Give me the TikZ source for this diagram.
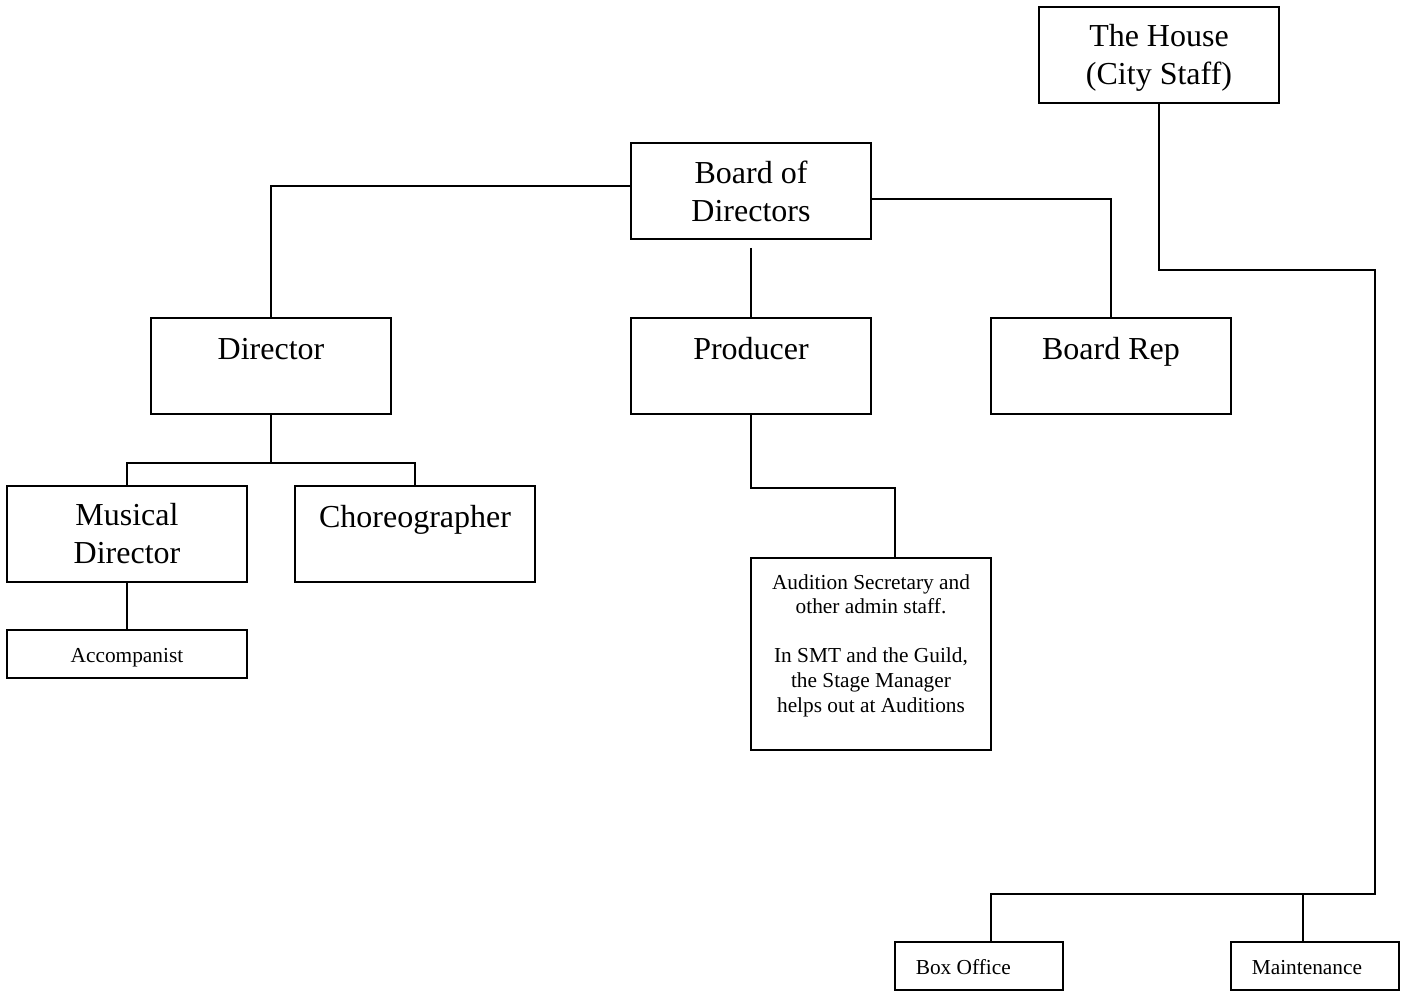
\documentclass[tikz,border=0pt]{standalone}
\usepackage{fontspec}
\setmainfont{Liberation Serif}
\begin{document}
\begin{tikzpicture}[x=0.375pt,y=-0.375pt,
  line width=0.6pt,
  box/.style={draw,inner sep=0pt,minimum width=90pt,minimum height=36pt},
  smallbox/.style={draw,inner sep=0pt,minimum width=90pt,minimum height=18pt},
  tinybox/.style={draw,inner sep=0pt,minimum width=63pt,minimum height=18pt},
  bigtxt/.style={inner sep=0pt,anchor=base,align=center,font=\fontsize{12}{13.9}\selectfont},
  smalltxt/.style={inner sep=0pt,anchor=base,align=center,font=\fontsize{8}{9.2}\selectfont},
  lefttxt/.style={inner sep=0pt,anchor=base west,font=\fontsize{8}{9.2}\selectfont}]
\useasboundingbox (0,0) rectangle (1404,992);

% boxes
\node[box] (house) at (1159,55) {};
\node[box] (board) at (751,191) {};
\node[box] (dir) at (271,366) {};
\node[box] (prod) at (751,366) {};
\node[box] (rep) at (1111,366) {};
\node[box] (md) at (127,534) {};
\node[box] (chor) at (415,534) {};
\node[smallbox] (acc) at (127,654) {};
\node[draw,inner sep=0pt,minimum width=90pt,minimum height=72pt] (aud) at (871,654) {};
\node[tinybox] (boxoff) at (979,966) {};
\node[tinybox] (maint) at (1315,966) {};

% labels (multi-line labels are placed by the baseline of their last line)
\node[bigtxt] (houseT) at (1159,84) {The House\\(City Staff)};
\node[bigtxt] (boardT) at (751,221) {Board of\\Directors};
\node[bigtxt] (dirT) at (271,359) {Director};
\node[bigtxt] (prodT) at (751,359) {Producer};
\node[bigtxt] (repT) at (1111,359) {Board Rep};
\node[bigtxt] (mdT) at (127,563) {Musical\\Director};
\node[bigtxt] (chorT) at (415,527) {Choreographer};
\node[smalltxt] (accT) at (127,662) {Accompanist};
\node[smalltxt] (audT) at (871,712) {Audition Secretary and\\other admin staff.\\[9.2pt]In SMT and the Guild,\\the Stage Manager\\helps out at Auditions};
\node[lefttxt] (boxoffT) at (915,974) {Box Office};
\node[lefttxt] (maintT) at (1251,974) {Maintenance};

% connectors
\draw ([yshift=1.875pt]board.west) -| (dir.north);
\draw ([yshift=-3pt]board.east) -| (rep.north);
\draw ([yshift=-3pt]board.south) -- (prod.north);

\coordinate (dj) at ([yshift=-18pt]dir.south);
\draw (dir.south) -- (dj);
\draw (md.north) |- (dj) -| (chor.north);
\draw (md.south) -- (acc.north);

\coordinate (pj) at ([yshift=-27.375pt]prod.south);
\draw (prod.south) -- (pj) -| ([xshift=9pt]aud.north);

\coordinate (hr) at (1375,270);
\coordinate (hb) at (1375,894);
\draw (house.south) |- (hr) -- (hb) -| ([xshift=4.5pt]boxoff.north);
\draw ([xshift=-4.5pt]maint.north) -- ++(0,-48);
\end{tikzpicture}
\end{document}
